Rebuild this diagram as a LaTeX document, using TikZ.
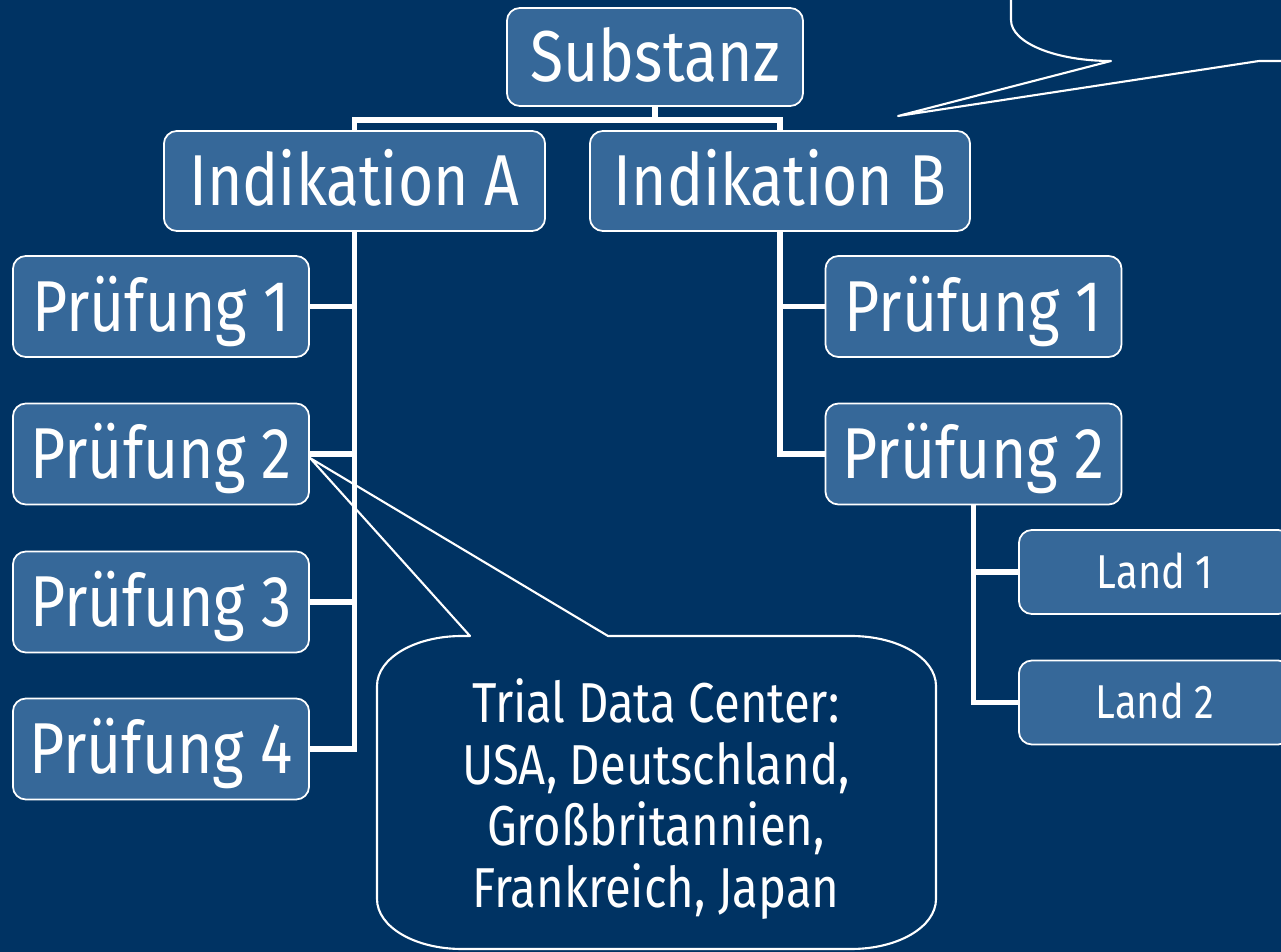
\documentclass[tikz,border=0pt]{standalone}
\usepackage{fontspec}
\setmainfont{Fira Sans}[FakeStretch=0.84]
\definecolor{slidebg}{RGB}{0,51,99}
\definecolor{boxblue}{RGB}{54,104,153}
\begin{document}
\begin{tikzpicture}[x=0.01cm, y=-0.01cm,
  box/.style={rectangle, rounded corners=0.13cm, draw=white, line width=0.5pt, fill=boxblue, text=white, inner sep=0pt, text depth=0pt},
  big/.style={box, font=\fontsize{20.5}{24}\selectfont, text height=14.1pt},
  pbox/.style={big, minimum width=2.96cm, minimum height=1.01cm},
  lbox/.style={box, font=\fontsize{13.5}{16}\selectfont, text height=9.3pt, minimum width=2.72cm, minimum height=0.84cm},
  link/.style={white, line width=1.65pt},
  callout/.style={white, line width=0.6pt, line join=round}]
\useasboundingbox (0,0) rectangle (1281,952);
\clip (0,0) rectangle (1281,952);
\fill[slidebg] (0,0) rectangle (1281,952);
% callouts
\draw[callout, fill=slidebg] (608,636) -- (851,636) .. controls (898,636) and (936,658) .. (936,686) -- (936,899) .. controls (936,927) and (898,949) .. (851,949) -- (462,949) .. controls (415,949) and (377,927) .. (377,899) -- (377,686) .. controls (377,658) and (415,636) .. (462,636) -- (470,636) -- (310,458) -- cycle;
\node[text=white, align=center, font=\fontsize{16}{17.6}\selectfont] (tdc) at (656,799) {Trial Data Center:\\USA, Deutschland,\\Großbritannien,\\Frankreich, Japan};
\draw[callout] (1011,-50) -- (1011,20) .. controls (1011,43) and (1056,61) .. (1111,61) -- (898,116) -- (1259,61) -- (1300,61);
% boxes
\node[big, minimum width=2.96cm, minimum height=0.98cm] (subst) at (655,57) {Substanz};
\node[big, minimum width=3.81cm, minimum height=1cm] (indA) at (354.5,181) {Indikation A};
\node[big, minimum width=3.8cm, minimum height=1cm] (indB) at (780,181) {Indikation B};
\node[pbox] (pA1) at (161,306.5) {Prüfung 1};
\node[pbox] (pA2) at (161,454) {Prüfung 2};
\node[pbox] (pA3) at (161,602) {Prüfung 3};
\node[pbox] (pA4) at (161,749) {Prüfung 4};
\node[pbox] (pB1) at (973.5,306.5) {Prüfung 1};
\node[pbox] (pB2) at (973.5,454) {Prüfung 2};
\node[lbox] (land1) at (1155,572) {Land 1};
\node[lbox] (land2) at (1155,702.5) {Land 2};
% tree lines
\draw[link] (subst.south) -- ++(0,13) -| (indA.north);
\draw[link] (subst.south) -- ++(0,13) -| (indB.north);
\draw[link] (indA.south) |- (pA4.east);
\foreach \p in {pA1,pA2,pA3}
  \draw[link] (\p.east) -- (\p.east -| indA.south);
\draw[link] (indB.south) |- (pB2.west);
\draw[link] (pB1.west) -- (pB1.west -| indB.south);
\draw[link] (pB2.south) |- (land2.west);
\draw[link] (land1.west) -- (land1.west -| pB2.south);
\end{tikzpicture}
\end{document}
